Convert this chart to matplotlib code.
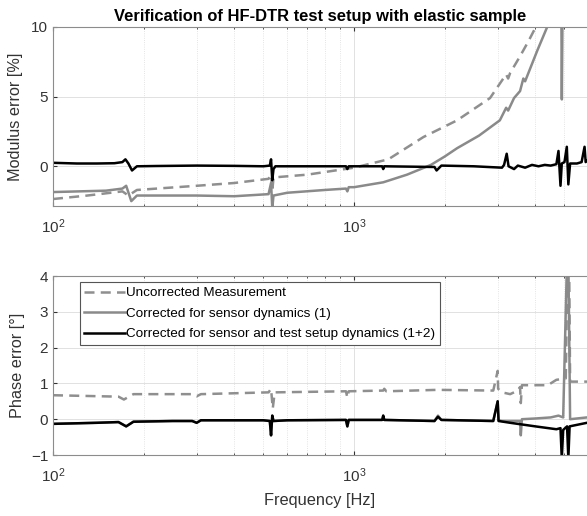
import matplotlib
matplotlib.use("Agg")
import matplotlib.pyplot as plt
from matplotlib.ticker import LogLocator, NullFormatter

plt.rcParams['font.family'] = ['Liberation Sans', 'DejaVu Sans']
plt.rcParams['mathtext.fontset'] = 'custom'
plt.rcParams['mathtext.rm'] = 'Liberation Sans'
plt.rcParams['mathtext.it'] = 'Liberation Sans'

# ---- data ----
# modulus error [%], uncorrected measurement
mod0_f = [100, 130, 170, 178, 190, 300, 400, 520, 530, 535, 540, 700, 1000, 1300,
          1700, 2200, 2830, 3200, 3250, 3300, 3560, 3800, 4060, 4500]
mod0_v = [-2.35, -2.1, -1.8, -2.1, -1.7, -1.4, -1.2, -0.9, -0.6, -1.8, -0.8, -0.6, -0.1, 0.5,
          2.1, 3.3, 4.9, 6.6, 6.3, 6.7, 7.9, 9.0, 10.2, 12]
# modulus error, corrected for sensor dynamics (1)
mod1_f = [100, 150, 170, 175, 182, 190, 300, 400, 520, 530, 535, 540, 600, 800, 940, 950,
          960, 1000, 1250, 1500, 1800, 2000, 2200, 2600, 3050, 3200, 3250, 3400, 3560,
          3650, 3700, 4060, 4420, 4880, 4900, 4930]
mod1_v = [-1.85, -1.75, -1.6, -1.4, -2.5, -2.1, -2.1, -2.15, -2.0, -1.2, -3.0, -2.1, -1.9, -1.7,
          -1.6, -1.8, -1.5, -1.5, -1.15, -0.6, 0.1, 0.7, 1.3, 2.2, 3.3, 4.2, 4.0, 4.9, 5.4,
          6.3, 6.1, 8.3, 10.2, 12, 4.8, 12]
# modulus error, corrected for sensor and test setup dynamics (1+2)
mod12_f = [100, 120, 140, 160, 170, 174, 178, 183, 190, 220, 300, 400, 500, 525, 530, 535,
           540, 548, 600, 800, 940, 950, 960, 1240, 1250, 1260, 1850, 1880, 1920, 1950,
           2500, 3100, 3150, 3214, 3260, 3400, 3500, 3700, 3900, 4100, 4300, 4500, 4700,
           4776, 4850, 4898, 5000, 5090, 5150, 5220, 5500, 5700, 5830, 5880, 5940]
mod12_v = [0.25, 0.2, 0.2, 0.22, 0.3, 0.5, 0.2, -0.3, 0.0, 0.02, 0.05, 0.03, 0.0, 0.05, 0.5, -1.0,
           -0.2, 0.0, 0.0, 0.0, 0.0, -0.2, 0.0, 0.0, -0.2, 0.0, -0.05, -0.3, -0.1, 0.05,
           0.0, -0.1, 0.1, 0.9, 0.0, -0.2, 0.05, -0.1, 0.1, 0.0, 0.1, 0.05, 0.15,
           1.1, -1.4, 0.2, 0.3, 1.4, -1.3, 0.2, 0.2, 0.3, 1.4, 0.3, 0.4]

# phase error [deg], uncorrected measurement
ph0_f = [100, 165, 172, 185, 290, 300, 310, 520, 530, 537, 545, 940, 950, 960, 1250, 1260,
         1280, 1900, 2900, 3000, 3010, 3100, 3300, 3500, 3560, 3580, 3610, 4400, 4700, 5050,
         5120, 5180, 5220, 5500, 5940]
ph0_v = [0.67, 0.63, 0.55, 0.7, 0.7, 0.64, 0.7, 0.75, 0.85, 0.3, 0.75, 0.78, 0.6, 0.78, 0.8, 0.85,
         0.78, 0.82, 0.8, 1.35, 0.85, 0.75, 0.7, 0.8, 0.9, 0.45, 0.95, 0.95, 1.1, 1.14,
         4.5, 4.5, 1.05, 1.05, 1.05]
# phase error, corrected for sensor dynamics (1)
ph1_f = [100, 140, 165, 175, 185, 250, 290, 300, 310, 500, 525, 530, 535, 540, 600, 940, 950,
         960, 1240, 1250, 1260, 1850, 1900, 1950, 2900, 3000, 3020, 3100, 3500, 3560, 3580,
         3610, 4000, 4500, 4776, 4950, 5100, 5150, 5220, 5940]
ph1_v = [-0.13, -0.1, -0.08, -0.2, -0.07, -0.05, -0.05, -0.1, -0.03, -0.03, -0.05, -0.45, 0.1,
         -0.05, -0.03, -0.02, -0.2, -0.02, -0.02, 0.1, -0.02, -0.05, 0.1, -0.02, -0.05, 0.5,
         -0.03, -0.05, -0.05, -0.05, -0.45, 0.0, 0.02, 0.05, 0.1, 0.05, 4.5, 4.5, 0.0, 0.05]
# phase error, corrected for sensor and test setup dynamics (1+2)
ph12_f = [100, 140, 165, 175, 185, 250, 290, 300, 310, 500, 525, 530, 535, 540, 600, 940, 950,
          960, 1240, 1250, 1260, 1850, 1900, 1950, 2900, 3000, 3020, 3300, 4000, 4700, 4850,
          4898, 4950, 5100, 5150, 5200, 5940]
ph12_v = [-0.13, -0.1, -0.08, -0.2, -0.07, -0.05, -0.05, -0.1, -0.03, -0.03, -0.05, -0.45, 0.1,
          -0.05, -0.03, -0.02, -0.2, -0.02, -0.02, 0.1, -0.02, -0.05, 0.07, -0.02, -0.05, 0.5,
          -0.05, -0.1, -0.2, -0.28, -0.25, -1.1, -0.3, -0.2, -1.1, -0.2, -0.1]

labels = ['Uncorrected Measurement',
          'Corrected for sensor dynamics (1)',
          'Corrected for sensor and test setup dynamics (1+2)']

c_dash = '#8f8f8f'
c_grey = '#8a8a8a'
lw = 1.8

fig = plt.figure(figsize=(5.87, 5.16), dpi=100)
ax1 = fig.add_axes([0.0903, 0.6008, 0.9097, 0.3469])
ax2 = fig.add_axes([0.0903, 0.1182, 0.9097, 0.3469])


def style(ax):
    ax.set_xscale('log')
    ax.set_xlim(100, 5940)
    ax.xaxis.set_major_locator(LogLocator(base=10))
    ax.xaxis.set_minor_locator(LogLocator(base=10, subs=range(2, 10)))
    ax.xaxis.set_minor_formatter(NullFormatter())
    ax.grid(True, which='major', color='#dcdcdc', lw=0.6)
    ax.grid(True, which='minor', axis='x', color='#dcdcdc', lw=0.6, ls=':')
    ax.tick_params(which='both', direction='in', top=True, colors='#333333', labelsize=11)
    ax.tick_params(axis='x', which='major', pad=8)
    ax.tick_params(which='major', length=3)
    ax.tick_params(which='minor', length=1.5)
    for s in ['left', 'top', 'bottom']:
        ax.spines[s].set_color('#8c8c8c')
    ax.spines['right'].set_visible(False)
    ax.set_axisbelow(True)


ax1.plot(mod0_f, mod0_v, color=c_dash, lw=lw, ls=(0, (4, 2.5)))
ax1.plot(mod1_f, mod1_v, color=c_grey, lw=lw)
ax1.plot(mod12_f, mod12_v, color='black', lw=lw)
style(ax1)
ax1.set_ylim(-2.85, 10)
ax1.set_yticks([0, 5, 10])
ax1.set_ylabel('Modulus error [%]', fontsize=11.7, color='#333333', labelpad=6)
ax1.set_title('Verification of HF-DTR test setup with elastic sample',
              fontsize=11.9, fontweight='bold', pad=4)

ax2.plot(ph0_f, ph0_v, color=c_dash, lw=lw, ls=(0, (4, 2.5)), label=labels[0])
ax2.plot(ph1_f, ph1_v, color=c_grey, lw=lw, label=labels[1])
ax2.plot(ph12_f, ph12_v, color='black', lw=lw, label=labels[2])
style(ax2)
ax2.set_ylim(-1, 4)
ax2.set_yticks([-1, 0, 1, 2, 3, 4])
ax2.set_ylabel('Phase error [°]', fontsize=11.7, color='#333333')
ax2.set_xlabel('Frequency [Hz]', fontsize=11.8, color='#333333', labelpad=6)

leg = ax2.legend(loc='upper left', bbox_to_anchor=(0.05, 0.966), borderaxespad=0,
                 fontsize=9.7, handlelength=3.0, handletextpad=0.1, labelspacing=0.6,
                 borderpad=0.35, fancybox=False, framealpha=1)
leg.get_frame().set_edgecolor('#555555')
leg.get_frame().set_linewidth(0.8)

fig.savefig('out.png', dpi=100)
